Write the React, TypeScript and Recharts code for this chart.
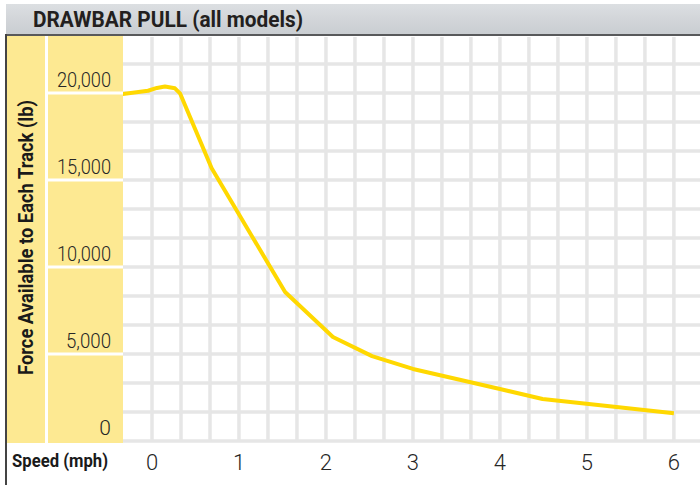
import React from "react";
import { LineChart, Line, XAxis, YAxis, CartesianGrid } from "recharts";

const speedMph = [-0.345, -0.046, 0.057, 0.149, 0.264, 0.322, 0.379, 0.686, 1.53, 2.08, 2.53, 3.0, 4.0, 4.49, 5.34, 6.0];
const forceLb = [19940, 20130, 20290, 20370, 20270, 19980, 19310, 15670, 8560, 5980, 4880, 4140, 2990, 2410, 1950, 1600];

const xGridTicks = [0, 1 / 3, 2 / 3, 1, 4 / 3, 5 / 3, 2, 7 / 3, 8 / 3, 3, 10 / 3, 11 / 3, 4, 13 / 3, 14 / 3, 5, 16 / 3, 17 / 3, 6];
const yGridTicks = [0, 5000 / 3, 10000 / 3, 5000, 20000 / 3, 25000 / 3, 10000, 35000 / 3, 40000 / 3, 15000, 50000 / 3, 55000 / 3, 20000, 65000 / 3];
const yLabelValues = [0, 5000, 10000, 15000, 20000];
const yLabelTexts = ["0", "5,000", "10,000", "15,000", "20,000"];
const xLabelValues = [0, 1, 2, 3, 4, 5, 6];
const xLabelTexts = ["0", "1", "2", "3", "4", "5", "6"];

const title = "DRAWBAR PULL (all models)";
const yTitle = "Force Available to Each Track (lb)";
const xTitle = "Speed (mph)";

const data = speedMph.map((s, i) => ({ speed: s, force: forceLb[i] }));

const YELLOW = "#fde992";
const LINE = "#ffd800";
const GRID = "#e6e6e6";
const BOLD = "Roboto, 'Liberation Sans', sans-serif";
const LIGHT = "Roboto, 'Liberation Sans', sans-serif";

const YTick = (props: any) => {
  const { y, payload } = props;
  const v = payload.value;
  const idx = yLabelValues.findIndex((t) => Math.abs(t - v) < 1e-6);
  if (idx < 0) return <g />;
  const txt = yLabelTexts[idx];
  return (
    <g>
      {v !== 0 && <line x1={48} x2={123} y1={y} y2={y} stroke="#ffffff" strokeWidth={3} />}
      <text
        x={111}
        y={y - 6}
        textAnchor="end"
        fontFamily={LIGHT}
        fontWeight={300}
        fontSize={21}
        fill="#262626"
        textLength={txt.length > 1 ? txt.length * 9 : undefined}
        lengthAdjust="spacingAndGlyphs"
      >
        {txt}
      </text>
    </g>
  );
};

const XTick = (props: any) => {
  const { x, payload } = props;
  const v = payload.value;
  const idx = xLabelValues.findIndex((t) => Math.abs(t - v) < 1e-6);
  if (idx < 0) return <g />;
  return (
    <text x={x} y={470} textAnchor="middle" fontFamily={LIGHT} fontWeight={300} fontSize={22} fill="#262626">
      {xLabelTexts[idx]}
    </text>
  );
};

export default function App() {
  return (
    <div style={{ position: "absolute", left: 0, top: 0, width: 700, height: 485, background: "#ffffff", overflow: "hidden" }}>
      <svg width={700} height={485} style={{ position: "absolute", left: 0, top: 0 }}>
        <defs>
          <linearGradient id="hdr" x1="0" y1="0" x2="0" y2="1">
            <stop offset="0" stopColor="#dcdfe2" />
            <stop offset="0.5" stopColor="#d2d5d9" />
            <stop offset="1" stopColor="#c9cdd1" />
          </linearGradient>
        </defs>
        <rect x={6} y={4} width={694} height={31} fill="url(#hdr)" />
        <rect x={6} y={34} width={694} height={2} fill="#58595b" />
        <rect x={7} y={36} width={116} height={407} fill={YELLOW} />
        <rect x={45} y={36} width={3} height={407} fill="#ffffff" />
        <rect x={5} y={34} width={2} height={451} fill="#444444" />
      </svg>
      <div style={{ position: "absolute", left: 0, top: 0 }}>
        <LineChart width={700} height={485} data={data} margin={{ top: 37, right: 0, bottom: 0, left: 0 }}>
          <CartesianGrid stroke={GRID} strokeWidth={3.5} syncWithTicks />
          <XAxis
            dataKey="speed"
            type="number"
            domain={[-1 / 3, 6.3]}
            allowDataOverflow
            ticks={xGridTicks}
            interval={0}
            height={44}
            axisLine={false}
            tickLine={false}
            tick={<XTick />}
          />
          <YAxis
            type="number"
            domain={[0, 23218]}
            allowDataOverflow
            ticks={yGridTicks}
            interval={0}
            width={123}
            axisLine={false}
            tickLine={false}
            tick={<YTick />}
          />
          <Line
            type="linear"
            dataKey="force"
            stroke={LINE}
            strokeWidth={4}
            dot={false}
            isAnimationActive={false}
            strokeLinejoin="round"
          />
        </LineChart>
      </div>
      <svg width={700} height={485} style={{ position: "absolute", left: 0, top: 0, pointerEvents: "none" }}>
        <text
          x={33}
          y={27}
          fontFamily={BOLD}
          fontWeight={700}
          fontSize={21.5}
          fill="#231f20"
          textLength={270}
          lengthAdjust="spacingAndGlyphs"
        >
          {title}
        </text>
        <text
          transform="translate(33,375) rotate(-90)"
          x={0}
          y={0}
          fontFamily={BOLD}
          fontWeight={700}
          fontSize={20.5}
          fill="#1a1a1a"
          textLength={275}
          lengthAdjust="spacingAndGlyphs"
        >
          {yTitle}
        </text>
        <text
          x={12}
          y={467}
          fontFamily={BOLD}
          fontWeight={700}
          fontSize={18}
          fill="#1a1a1a"
          textLength={96}
          lengthAdjust="spacingAndGlyphs"
        >
          {xTitle}
        </text>
      </svg>
    </div>
  );
}
